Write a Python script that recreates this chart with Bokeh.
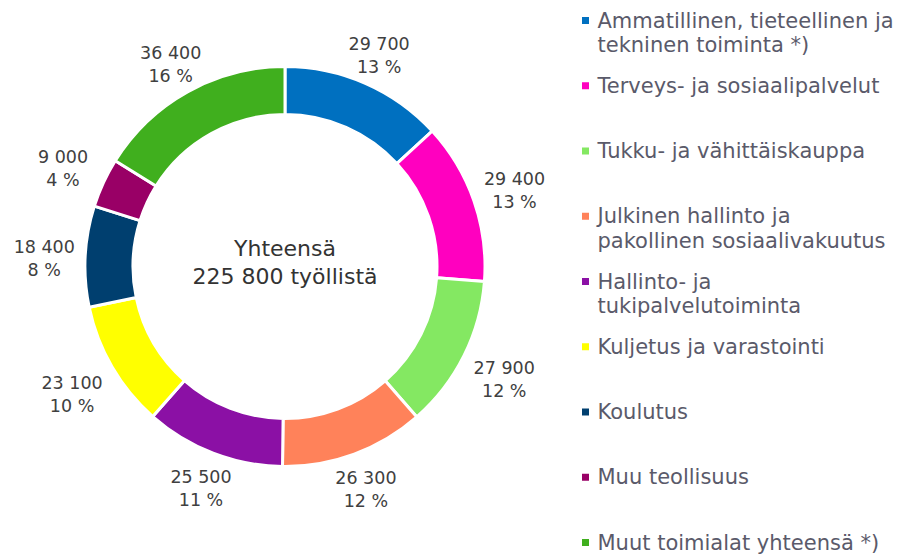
import math
from bokeh.plotting import figure
from bokeh.models import Range1d, ColumnDataSource
from bokeh.core.properties import value
from bokeh.embed import file_html
from bokeh.resources import INLINE

categories = [
    "Ammatillinen, tieteellinen ja\ntekninen toiminta *)",
    "Terveys- ja sosiaalipalvelut",
    "Tukku- ja vähittäiskauppa",
    "Julkinen hallinto ja\npakollinen sosiaalivakuutus",
    "Hallinto- ja\ntukipalvelutoiminta",
    "Kuljetus ja varastointi",
    "Koulutus",
    "Muu teollisuus",
    "Muut toimialat yhteensä *)",
]
values = [29700, 29400, 27900, 26300, 25500, 23100, 18400, 9000, 36400]
percents = [13, 13, 12, 12, 11, 10, 8, 4, 16]
colors = ["#0070C0", "#FF00BF", "#84E862", "#FF825A", "#8B10A5",
          "#FFFF00", "#003F6F", "#990066", "#40AF1E"]
total_label = ["Yhteensä", "225 800 työllistä"]

FONT = "DejaVu Sans"
W, H = 901, 555
# data coords: x = screen X, y = 555 - screen Y
p = figure(width=W, height=H, output_backend="svg", toolbar_location=None,
           x_range=Range1d(0, W), y_range=Range1d(0, H),
           min_border=0)
p.axis.visible = False
p.grid.visible = False
p.outline_line_color = None
p.background_fill_color = "white"

def sy(Y):
    return H - Y

cx, cy = 284.5, sy(266)
r_in, r_out = 152, 200
total = sum(values)

starts, ends, mids = [], [], []
cum = 0
for v in values:
    a0 = math.pi / 2 - 2 * math.pi * cum / total
    cum += v
    a1 = math.pi / 2 - 2 * math.pi * cum / total
    starts.append(a0)
    ends.append(a1)
    mids.append((a0 + a1) / 2)

src = ColumnDataSource(dict(start=starts, end=ends, color=colors))
p.annular_wedge(x=cx, y=cy, inner_radius=r_in, outer_radius=r_out,
                start_angle="start", end_angle="end", direction="clock",
                fill_color="color", line_color="white", line_width=3,
                source=src)

# data labels (box just outside the ring)
lx, ly1, ly2, t1, t2 = [], [], [], [], []
for v, pc, m in zip(values, percents, mids):
    c, s = abs(math.cos(m)), abs(math.sin(m))
    off = min(34 / max(c, 1e-6), 25 / max(s, 1e-6))
    r = 207 + off
    x = cx + r * math.cos(m)
    y = cy + r * math.sin(m) - 4
    lx.append(x)
    ly1.append(y + 11.5)
    ly2.append(y - 11.5)
    t1.append(f"{v:,}".replace(",", " "))
    t2.append(f"{pc} %")
p.text(x=lx, y=ly1, text=t1, text_font=value(FONT), text_font_size="17.5px",
       text_color="#404040", text_align="center", text_baseline="middle")
p.text(x=lx, y=ly2, text=t2, text_font=value(FONT), text_font_size="17.5px",
       text_color="#404040", text_align="center", text_baseline="middle")

# center text
p.text(x=[cx, cx], y=[sy(248), sy(276)], text=total_label,
       text_font=value(FONT), text_font_size="22px", text_color="#333333",
       text_align="center", text_baseline="middle")

# legend
leg_x0, leg_y0, leg_step, line_h = 585, 20, 65.25, 24.5
mx, my, tx, ty, tt = [], [], [], [], []
for i, (cat, col) in enumerate(zip(categories, colors)):
    Y = leg_y0 + i * leg_step
    mx.append(leg_x0)
    my.append(sy(Y))
    for j, line in enumerate(cat.split("\n")):
        tx.append(597)
        ty.append(sy(Y + j * line_h))
        tt.append(line)
p.scatter(x=mx, y=my, marker="square", size=7, fill_color=colors,
          line_color=None)
p.text(x=tx, y=ty, text=tt, text_font=value(FONT), text_font_size="21px",
       text_color="#5A5A6A", text_align="left", text_baseline="middle")

open("out.html", "w").write(file_html(p, INLINE))
